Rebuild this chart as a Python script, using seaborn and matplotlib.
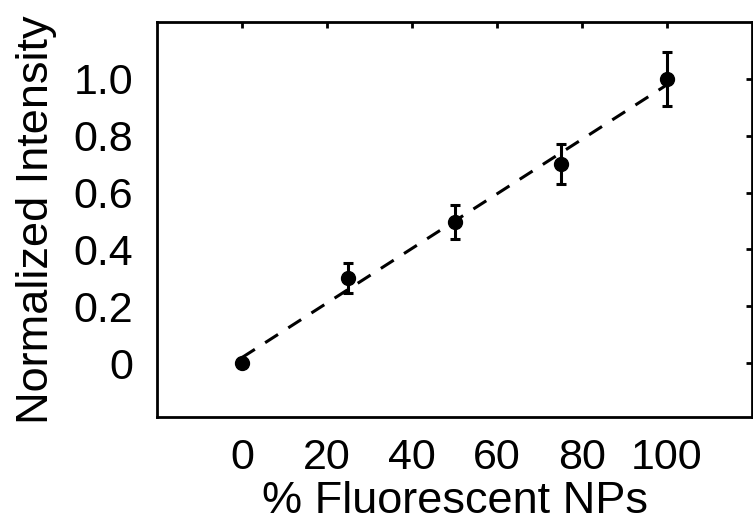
import matplotlib
matplotlib.use("Agg")
import matplotlib.pyplot as plt
import seaborn as sns
import numpy as np
import pandas as pd

# Data
percent_np = [0, 25, 50, 75, 100]
norm_intensity = [0.0, 0.30, 0.496, 0.70, 1.0]
intensity_err = [0.0, 0.053, 0.060, 0.070, 0.095]

x_ticks = [0, 20, 40, 60, 80, 100]
x_ticklabels = ["0", "20", "40", "60", "80", "100"]
y_ticks = [0, 0.2, 0.4, 0.6, 0.8, 1.0]
y_ticklabels = ["0", "0.2", "0.4", "0.6", "0.8", "1.0"]

df = pd.DataFrame({"pct": percent_np, "val": norm_intensity, "err": intensity_err})

sns.set_style("white")
plt.rcParams["font.family"] = ["Liberation Sans", "DejaVu Sans"]

fig = plt.figure(figsize=(7.53, 5.26), dpi=100)
ax = fig.add_axes([157 / 753, 1 - 417 / 526, (752 - 157) / 753, (417 - 22) / 526])

sns.regplot(data=df, x="pct", y="val", ax=ax, scatter=False, ci=None,
            truncate=True,
            line_kws=dict(color="black", lw=2.2, linestyle=(0, (5, 4))))

ax.errorbar(df["pct"], df["val"], yerr=df["err"], fmt="o", color="black",
            ms=10, elinewidth=2.2, capsize=3.5, capthick=2.2, zorder=5)

ax.set_xlim(-20, 120)
ax.set_ylim(-0.19, 1.2)
ax.set_xticks(x_ticks)
ax.set_xticklabels(x_ticklabels)
ax.set_yticks(y_ticks)
ax.set_yticklabels(y_ticklabels)

for s in ax.spines.values():
    s.set_visible(True)
    s.set_linewidth(2.0)
    s.set_color("black")

ax.tick_params(axis="both", which="major", direction="in", length=4, width=2,
               labelsize=31, colors="black", top=True, right=True,
               labeltop=False, labelright=False)
ax.tick_params(axis="y", pad=17)
ax.tick_params(axis="x", pad=15)

ax.set_xlabel("% Fluorescent NPs", fontsize=32.5, labelpad=2, color="black")
ax.set_ylabel("Normalized Intensity", fontsize=32.5, labelpad=12, color="black")

fig.savefig("out.png", dpi=100, facecolor="white")
